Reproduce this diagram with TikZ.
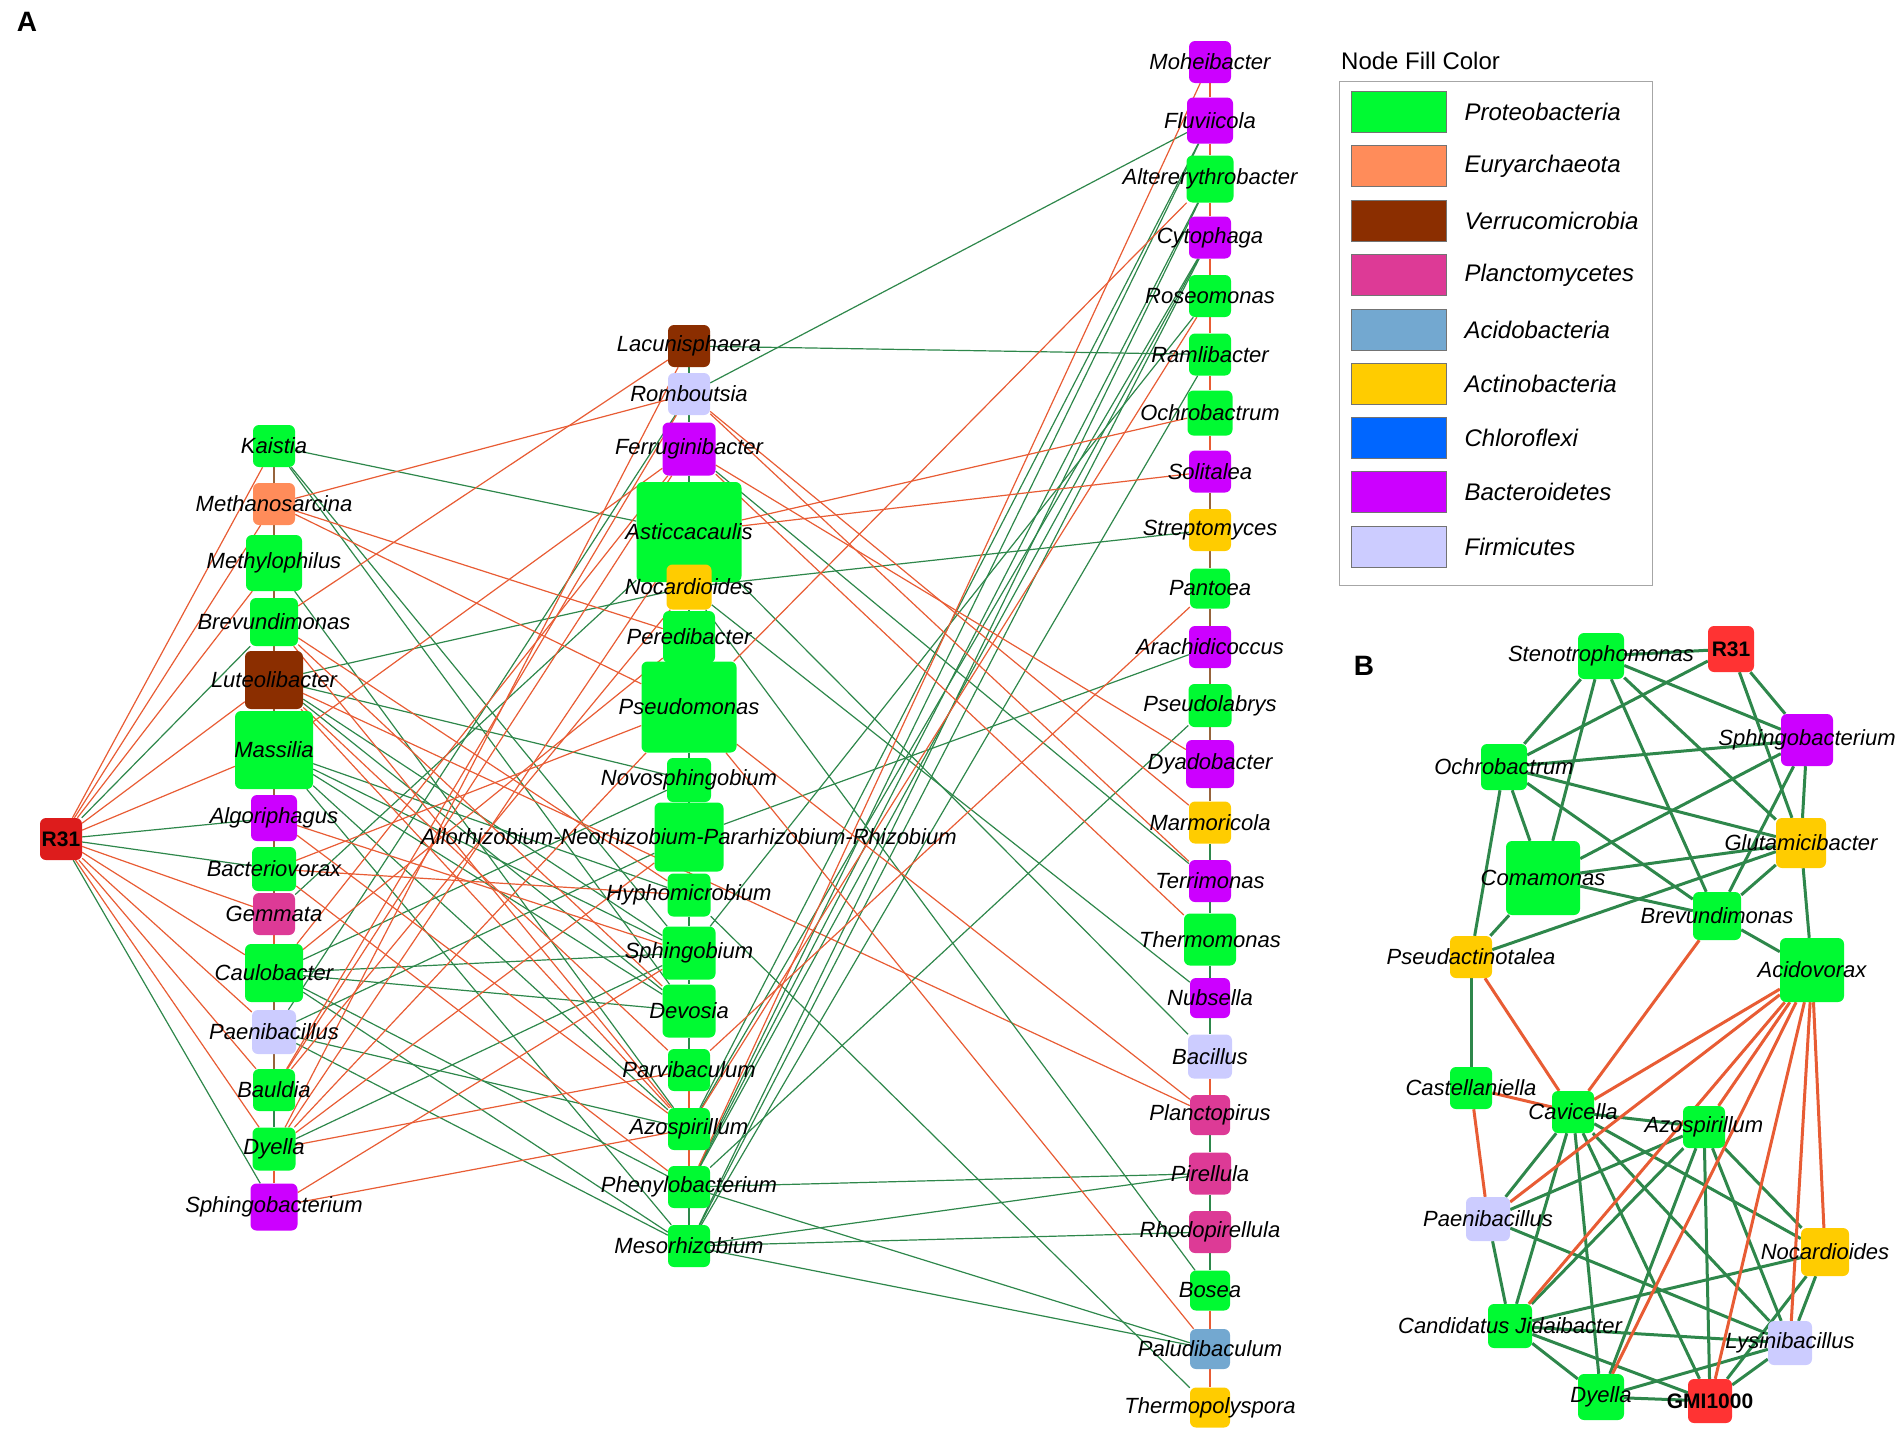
\documentclass[tikz,border=0pt]{standalone}
\usepackage{fontspec}
\setmainfont{Liberation Sans}
\usetikzlibrary{positioning}
\usetikzlibrary{backgrounds}
\definecolor{proteo}{RGB}{0,250,50}
\definecolor{eurya}{RGB}{255,140,90}
\definecolor{verru}{RGB}{139,46,0}
\definecolor{plancto}{RGB}{221,58,150}
\definecolor{acido}{RGB}{115,168,208}
\definecolor{actino}{RGB}{255,204,0}
\definecolor{chloro}{RGB}{0,102,255}
\definecolor{bactero}{RGB}{204,0,255}
\definecolor{firmi}{RGB}{204,204,255}
\definecolor{hubA}{RGB}{221,28,28}
\definecolor{hubB}{RGB}{255,51,51}
\definecolor{edgered}{RGB}{232,92,52}
\definecolor{edgegreen}{RGB}{46,135,75}
\definecolor{edgebrown}{RGB}{150,100,60}
\tikzset{
	taxon/.style={rectangle,rounded corners=6pt,inner sep=0pt,minimum size=#1},
	taxon/.default=42pt,
	lbl/.style={font=\fontsize{22}{24}\selectfont\itshape,inner sep=0pt},
	hublbl/.style={font=\fontsize{21}{24}\selectfont\bfseries,inner sep=0pt},
	redge/.style={draw=edgered,line width=1.2pt},
	gedge/.style={draw=edgegreen,line width=1.2pt},
	bedge/.style={draw=edgebrown,line width=2pt},
	thickred/.style={draw=edgered,line width=3pt},
	thickgreen/.style={draw=edgegreen,line width=3pt},
	swatch/.style={rectangle,draw=black!55,line width=0.8pt,minimum width=95pt,minimum height=41pt,inner sep=0pt},
	legtxt/.style={font=\fontsize{24}{26}\selectfont\itshape,inner sep=0pt,anchor=west},
	panel/.style={font=\fontsize{28}{30}\selectfont\bfseries,inner sep=0pt}
}

\begin{document}
\begin{tikzpicture}[x=1pt,y=-1pt]
	\useasboundingbox (0,0) rectangle (1902,1438);

	% panel A, hub
	\node[taxon, fill=hubA, label={[hublbl]center:R31}] (r31) at (61,839) {};

	% first column
	\node[taxon, fill=proteo, label={[lbl]center:Kaistia}] (kai) at (274,446) {};
	\node[taxon, fill=eurya, label={[lbl]center:Methanosarcina}] (meth) at (274,504) {};
	\node[taxon=56pt, fill=proteo, label={[lbl]center:Methylophilus}] (mphl) at (274,563) {};
	\node[taxon=48pt, fill=proteo, label={[lbl]center:Brevundimonas}] (brevA) at (274,622) {};
	\node[taxon=58pt, fill=verru, label={[lbl]center:Luteolibacter}] (lute) at (274,680) {};
	\node[taxon=78pt, fill=proteo, label={[lbl]center:Massilia}] (mass) at (274,750) {};
	\node[taxon=46pt, fill=bactero, label={[lbl]center:Algoriphagus}] (algo) at (274,818) {};
	\node[taxon=44pt, fill=proteo, label={[lbl]center:Bacteriovorax}] (bact) at (274,869) {};
	\node[taxon, fill=plancto, label={[lbl]center:Gemmata}] (gemm) at (274,914) {};
	\node[taxon=58pt, fill=proteo, label={[lbl]center:Caulobacter}] (caul) at (274,973) {};
	\node[taxon=44pt, fill=firmi, label={[lbl]center:Paenibacillus}] (paenA) at (274,1032) {};
	\node[taxon, fill=proteo, label={[lbl]center:Bauldia}] (baul) at (274,1090) {};
	\node[taxon=43pt, fill=proteo, label={[lbl]center:Dyella}] (dyeA) at (274,1149) {};
	\node[taxon=47pt, fill=bactero, label={[lbl]center:Sphingobacterium}] (sphA) at (274,1207) {};

	% second column
	\node[taxon, fill=verru, label={[lbl]center:Lacunisphaera}] (laku) at (689,346) {};
	\node[taxon, fill=firmi, label={[lbl]center:Romboutsia}] (romb) at (689,394) {};
	\node[taxon=53pt, fill=bactero, label={[lbl]center:Ferruginibacter}] (ferr) at (689,449) {};
	\node[taxon, minimum width=105pt, minimum height=100pt, fill=proteo, label={[lbl]center:Asticcacaulis}] (asti) at (689,532) {};
	\node[taxon=45pt, fill=actino, label={[lbl]center:Nocardioides}] (noca) at (689,587) {};
	\node[taxon=52pt, fill=proteo, label={[lbl]center:Peredibacter}] (pere) at (689,637) {};
	\node[taxon, minimum width=95pt, minimum height=91pt, fill=proteo, label={[lbl]center:Pseudomonas}] (pseud) at (689,707) {};
	\node[taxon=44pt, fill=proteo, label={[lbl]center:Novosphingobium}] (novo) at (689,780) {};
	\node[taxon=69pt, fill=proteo, label={[lbl]center:Allorhizobium-Neorhizobium-Pararhizobium-Rhizobium}] (allo) at (689,837) {};
	\node[taxon=43pt, fill=proteo, label={[lbl]center:Hyphomicrobium}] (hyph) at (689,895) {};
	\node[taxon=53pt, fill=proteo, label={[lbl]center:Sphingobium}] (sphb) at (689,953) {};
	\node[taxon=53pt, fill=proteo, label={[lbl]center:Devosia}] (devo) at (689,1011) {};
	\node[taxon, fill=proteo, label={[lbl]center:Parvibaculum}] (parv) at (689,1070) {};
	\node[taxon, fill=proteo, label={[lbl]center:Azospirillum}] (azoA) at (689,1129) {};
	\node[taxon, fill=proteo, label={[lbl]center:Phenylobacterium}] (phen) at (689,1187) {};
	\node[taxon, fill=proteo, label={[lbl]center:Mesorhizobium}] (meso) at (689,1246) {};

	% third column
	\node[taxon, fill=bactero, label={[lbl]center:Moheibacter}] (mohe) at (1210,62) {};
	\node[taxon=46pt, fill=bactero, label={[lbl]center:Fluviicola}] (fluv) at (1210,120.5) {};
	\node[taxon=47pt, fill=proteo, label={[lbl]center:Altererythrobacter}] (alte) at (1210,179) {};
	\node[taxon, fill=bactero, label={[lbl]center:Cytophaga}] (cyto) at (1210,237.5) {};
	\node[taxon, fill=proteo, label={[lbl]center:Roseomonas}] (rose) at (1210,296) {};
	\node[taxon, fill=proteo, label={[lbl]center:Ramlibacter}] (ramb) at (1210,354.5) {};
	\node[taxon=45pt, fill=proteo, label={[lbl]center:Ochrobactrum}] (ochA) at (1210,413) {};
	\node[taxon, fill=bactero, label={[lbl]center:Solitalea}] (soli) at (1210,471.5) {};
	\node[taxon, fill=actino, label={[lbl]center:Streptomyces}] (stre) at (1210,530) {};
	\node[taxon=40pt, fill=proteo, label={[lbl]center:Pantoea}] (pant) at (1210,588.5) {};
	\node[taxon, fill=bactero, label={[lbl]center:Arachidicoccus}] (arac) at (1210,647) {};
	\node[taxon=43pt, fill=proteo, label={[lbl]center:Pseudolabrys}] (pseu) at (1210,705.5) {};
	\node[taxon=48pt, fill=bactero, label={[lbl]center:Dyadobacter}] (dyad) at (1210,764) {};
	\node[taxon, fill=actino, label={[lbl]center:Marmoricola}] (marm) at (1210,822.5) {};
	\node[taxon, fill=bactero, label={[lbl]center:Terrimonas}] (terr) at (1210,881) {};
	\node[taxon=52pt, fill=proteo, label={[lbl]center:Thermomonas}] (ther) at (1210,939.5) {};
	\node[taxon=40pt, fill=bactero, label={[lbl]center:Nubsella}] (nubs) at (1210,998) {};
	\node[taxon=44pt, fill=firmi, label={[lbl]center:Bacillus}] (baci) at (1210,1056.5) {};
	\node[taxon=40pt, fill=plancto, label={[lbl]center:Planctopirus}] (plan) at (1210,1115) {};
	\node[taxon, fill=plancto, label={[lbl]center:Pirellula}] (pire) at (1210,1173.5) {};
	\node[taxon, fill=plancto, label={[lbl]center:Rhodopirellula}] (rhod) at (1210,1232) {};
	\node[taxon=40pt, fill=proteo, label={[lbl]center:Bosea}] (bose) at (1210,1290.5) {};
	\node[taxon=40pt, fill=acido, label={[lbl]center:Paludibaculum}] (palu) at (1210,1349) {};
	\node[taxon=40pt, fill=actino, label={[lbl]center:Thermopolyspora}] (thpo) at (1210,1407.5) {};

	% panel B
	\node[taxon=46pt, fill=hubB, label={[hublbl]center:R31}] (r31B) at (1731,649) {};
	\node[taxon=46pt, fill=proteo, label={[lbl]center:Stenotrophomonas}] (sten) at (1601,656) {};
	\node[taxon=52pt, fill=bactero, label={[lbl]center:Sphingobacterium}] (sphB) at (1807,740) {};
	\node[taxon=46pt, fill=proteo, label={[lbl]center:Ochrobactrum}] (ochB) at (1504,767) {};
	\node[taxon=50pt, fill=actino, label={[lbl]center:Glutamicibacter}] (glut) at (1801,843) {};
	\node[taxon=74pt, fill=proteo, label={[lbl]center:Comamonas}] (coma) at (1543,878) {};
	\node[taxon=48pt, fill=proteo, label={[lbl]center:Brevundimonas}] (brevB) at (1717,916) {};
	\node[taxon, fill=actino, label={[lbl]center:Pseudactinotalea}] (psac) at (1471,957) {};
	\node[taxon=64pt, fill=proteo, label={[lbl]center:Acidovorax}] (acid) at (1812,970) {};
	\node[taxon, fill=proteo, label={[lbl]center:Castellaniella}] (cast) at (1471,1088) {};
	\node[taxon, fill=proteo, label={[lbl]center:Cavicella}] (cavi) at (1573,1112) {};
	\node[taxon, fill=proteo, label={[lbl]center:Azospirillum}] (azoB) at (1704,1127) {};
	\node[taxon=44pt, fill=firmi, label={[lbl]center:Paenibacillus}] (paenB) at (1488,1219) {};
	\node[taxon=48pt, fill=actino, label={[lbl]center:Nocardioides}] (nocB) at (1825,1252) {};
	\node[taxon=44pt, fill=proteo, label={[lbl]center:Candidatus Jidaibacter}] (cand) at (1510,1326) {};
	\node[taxon=44pt, fill=firmi, label={[lbl]center:Lysinibacillus}] (lysi) at (1790,1343) {};
	\node[taxon=46pt, fill=proteo, label={[lbl]center:Dyella}] (dyeB) at (1601,1397) {};
	\node[taxon=44pt, fill=hubB, label={[hublbl]center:GMI1000}] (gmi) at (1710,1401) {};

	\node[panel] (pA) at (27,22) {A};
	\node[panel] (pB) at (1364,666) {B};

	% legend
	\node[font=\fontsize{24}{26}\selectfont, inner sep=0pt, anchor=west] (legtitle) at (1341,61) {Node Fill Color};
	\node[draw=black!35, line width=1pt, minimum width=313pt, minimum height=504pt, inner sep=0pt, anchor=north west] (legbox) at (1339,81) {};
	\node[swatch, fill=proteo] (sw1) at (1398.5,112) {};
	\node[swatch, fill=eurya] (sw2) at (1398.5,166) {};
	\node[swatch, fill=verru] (sw3) at (1398.5,221) {};
	\node[swatch, fill=plancto] (sw4) at (1398.5,275) {};
	\node[swatch, fill=acido] (sw5) at (1398.5,330) {};
	\node[swatch, fill=actino] (sw6) at (1398.5,384) {};
	\node[swatch, fill=chloro] (sw7) at (1398.5,438) {};
	\node[swatch, fill=bactero] (sw8) at (1398.5,492) {};
	\node[swatch, fill=firmi] (sw9) at (1398.5,547) {};
	\node[legtxt, right=18pt of sw1] {Proteobacteria};
	\node[legtxt, right=18pt of sw2] {Euryarchaeota};
	\node[legtxt, right=18pt of sw3] {Verrucomicrobia};
	\node[legtxt, right=18pt of sw4] {Planctomycetes};
	\node[legtxt, right=18pt of sw5] {Acidobacteria};
	\node[legtxt, right=18pt of sw6] {Actinobacteria};
	\node[legtxt, right=18pt of sw7] {Chloroflexi};
	\node[legtxt, right=18pt of sw8] {Bacteroidetes};
	\node[legtxt, right=18pt of sw9] {Firmicutes};

	\begin{scope}[on background layer]
	% column spines
	\path[bedge] (kai) edge (meth) (meth) edge (mphl) (mphl) edge (brevA)
	    (brevA) edge (lute) (lute) edge (mass) (mass) edge (algo)
	    (algo) edge (bact) (bact) edge (gemm) (caul) edge (paenA) (paenA) edge (baul);
	\path[redge,line width=2pt] (gemm) edge (caul) (dyeA) edge (sphA)
	    (parv) edge (azoA) (azoA) edge (phen)
	    (mohe) edge (fluv) (fluv) edge (alte) (alte) edge (cyto) (cyto) edge (rose)
	    (rose) edge (ramb) (ramb) edge (ochA) (ochA) edge (soli)
	    (baci) edge (plan) (bose) edge (palu) (palu) edge (thpo);
	\path[gedge,line width=2pt] (baul) edge (dyeA)
	    (laku) edge (romb) (romb) edge (ferr) (ferr) edge (asti) (noca) edge (pere)
	    (pseud) edge (novo) (novo) edge (allo) (allo) edge (hyph) (hyph) edge (sphb)
	    (sphb) edge (devo) (devo) edge (parv) (phen) edge (meso)
	    (marm) edge (terr) (terr) edge (ther) (ther) edge (nubs) (nubs) edge (baci)
	    (plan) edge (pire) (pire) edge (rhod) (rhod) edge (bose);
	\path[bedge] (soli) edge (stre) (stre) edge (pant) (pant) edge (arac)
	    (arac) edge (pseu) (pseu) edge (dyad) (dyad) edge (marm);

	% hub to first column
	\path[redge] (r31) edge (kai) edge (meth) edge (mphl) edge (lute) edge (mass)
	    edge (gemm) edge (caul) edge (paenA) edge (baul) edge (dyeA);
	\path[gedge] (r31) edge (brevA) edge (algo) edge (bact) edge (sphA);

	% first to second column
	\path[gedge]
	  (kai) edge (asti) edge (sphb) edge (devo)
	  (mphl) edge (azoA)
	  (lute) edge (noca) edge (novo) edge (sphb) edge (devo)
	  (mass) edge (hyph) edge (sphb) edge (devo) edge (azoA) edge (meso)
	  (gemm) edge (asti)
	  (caul) edge (novo) edge (sphb) edge (devo) edge (phen) edge (meso)
	  (paenA) edge (allo) edge (azoA) edge (meso) edge (romb)
	  (dyeA) edge (sphb);
	\path[redge]
	  (meth) edge (romb) edge (pere) edge (pseud)
	  (brevA) edge (laku) edge (hyph) edge (devo) edge (azoA)
	  (lute) edge (azoA) edge (parv) edge (plan)
	  (mass) edge (ferr)
	  (algo) edge (sphb) edge (azoA)
	  (bact) edge (hyph) edge (pseud) edge (phen)
	  (caul) edge (pere) edge (ferr)
	  (baul) edge (romb) edge (noca) edge (ferr)
	  (dyeA) edge (pseud) edge (allo) edge (asti) edge (laku) edge (parv)
	  (sphA) edge (sphb) edge (azoA);

	% second to third column
	\path[gedge]
	  (laku) edge (ramb)
	  (romb) edge (fluv)
	  (ferr) edge (terr)
	  (noca) edge (stre) edge (bose) edge (nubs)
	  (asti) edge (baci)
	  (allo) edge (arac)
	  (hyph) edge (thpo)
	  (sphb) edge (rose)
	  (azoA) edge (fluv) edge (cyto)
	  (phen) edge (pseu) edge (pire) edge (palu) edge (fluv) edge (alte) edge (cyto)
	  (meso) edge (pire) edge (rhod) edge (palu) edge (alte) edge (cyto) edge (ramb);
	\path[redge]
	  (romb) edge (marm) edge (terr)
	  (ferr) edge (dyad) edge (ther)
	  (asti) edge (ochA) edge (soli)
	  (pseud) edge (plan) edge (palu) edge (alte)
	  (parv) edge (pant)
	  (phen) edge (mohe)
	  (azoA) edge (rose);

	% panel B links
	\path[thickgreen]
	  (r31B) edge (sten) edge (ochB) edge (sphB) edge (glut)
	  (sten) edge (ochB) edge (coma) edge (brevB) edge (glut) edge (sphB)
	  (ochB) edge (sphB) edge (coma) edge (brevB) edge (glut) edge (psac)
	  (coma) edge (sphB) edge (glut) edge (brevB) edge (psac)
	  (psac) edge (glut) edge (cast)
	  (sphB) edge (brevB) edge (glut)
	  (glut) edge (brevB) edge (acid)
	  (brevB) edge (acid)
	  (cavi) edge (azoB) edge (paenB) edge (cand) edge (dyeB) edge (gmi) edge (lysi) edge (nocB)
	  (azoB) edge (paenB) edge (cand) edge (dyeB) edge (gmi) edge (lysi) edge (nocB)
	  (paenB) edge (cand) edge (lysi)
	  (cand) edge (nocB) edge (lysi) edge (dyeB) edge (gmi)
	  (dyeB) edge (gmi) edge (lysi)
	  (gmi) edge (lysi) edge (nocB)
	  (lysi) edge (nocB);
	\path[thickred]
	  (psac) edge (cavi)
	  (brevB) edge (cavi)
	  (cast) edge (cavi) edge (paenB)
	  (acid) edge (cavi) edge (paenB) edge (cand) edge (azoB) edge (dyeB) edge (gmi) edge (lysi) edge (nocB);
	\end{scope}
\end{tikzpicture}
\end{document}
